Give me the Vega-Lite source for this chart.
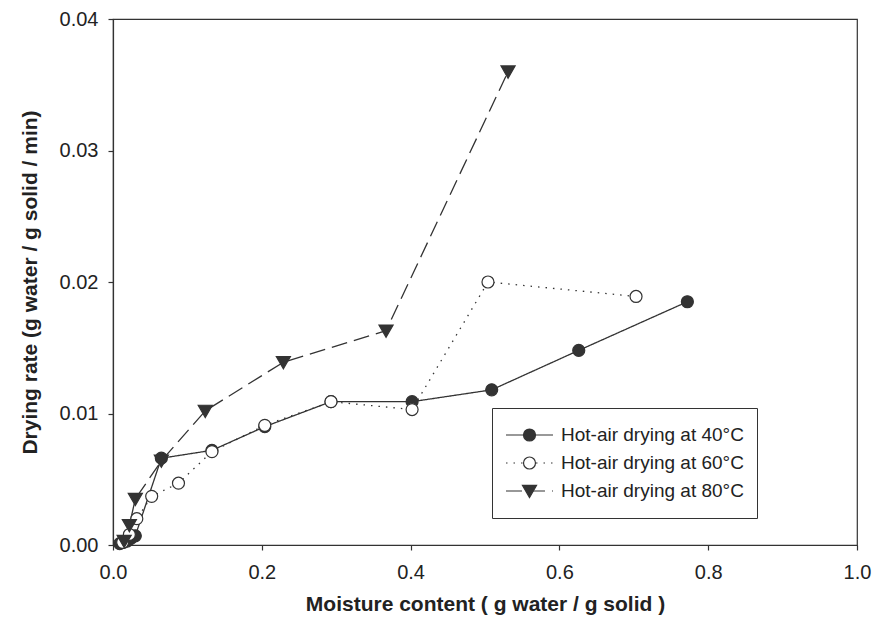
{
  "$schema": "https://vega.github.io/schema/vega-lite/v6.json",
  "autosize": {"type": "none"},
  "padding": {"left": 113, "top": 19, "right": 24, "bottom": 90},
  "width": 744,
  "height": 526,
  "background": "white",
  "config": {
    "font": "Liberation Sans",
    "view": {"stroke": "#333", "strokeWidth": 1.2},
    "axis": {
      "grid": false,
      "domainColor": "#333",
      "domainWidth": 1.2,
      "tickColor": "#333",
      "tickWidth": 1.2,
      "tickSize": 5,
      "labelFont": "Liberation Sans",
      "labelFontSize": 20,
      "labelColor": "#222",
      "labelFlush": false,
      "labelOverlap": false,
      "titleFont": "Liberation Sans",
      "titleFontSize": 21,
      "titleFontWeight": "bold",
      "titleColor": "#222"
    }
  },
  "data": {
    "values": [
      {"series": "Hot-air drying at 40°C", "x": 0.009, "y": 0.0001},
      {"series": "Hot-air drying at 40°C", "x": 0.014, "y": 0.0002},
      {"series": "Hot-air drying at 40°C", "x": 0.019, "y": 0.0003},
      {"series": "Hot-air drying at 40°C", "x": 0.024, "y": 0.0005},
      {"series": "Hot-air drying at 40°C", "x": 0.03, "y": 0.0007},
      {"series": "Hot-air drying at 40°C", "x": 0.065, "y": 0.0066},
      {"series": "Hot-air drying at 40°C", "x": 0.133, "y": 0.0072},
      {"series": "Hot-air drying at 40°C", "x": 0.204, "y": 0.0090},
      {"series": "Hot-air drying at 40°C", "x": 0.293, "y": 0.0109},
      {"series": "Hot-air drying at 40°C", "x": 0.402, "y": 0.0109},
      {"series": "Hot-air drying at 40°C", "x": 0.509, "y": 0.0118},
      {"series": "Hot-air drying at 40°C", "x": 0.626, "y": 0.0148},
      {"series": "Hot-air drying at 40°C", "x": 0.772, "y": 0.0185},
      {"series": "Hot-air drying at 60°C", "x": 0.013, "y": 0.0002},
      {"series": "Hot-air drying at 60°C", "x": 0.022, "y": 0.0008},
      {"series": "Hot-air drying at 60°C", "x": 0.032, "y": 0.0020},
      {"series": "Hot-air drying at 60°C", "x": 0.052, "y": 0.0037},
      {"series": "Hot-air drying at 60°C", "x": 0.088, "y": 0.0047},
      {"series": "Hot-air drying at 60°C", "x": 0.133, "y": 0.0071},
      {"series": "Hot-air drying at 60°C", "x": 0.204, "y": 0.0091},
      {"series": "Hot-air drying at 60°C", "x": 0.293, "y": 0.0109},
      {"series": "Hot-air drying at 60°C", "x": 0.402, "y": 0.0103},
      {"series": "Hot-air drying at 60°C", "x": 0.504, "y": 0.0200},
      {"series": "Hot-air drying at 60°C", "x": 0.703, "y": 0.0189},
      {"series": "Hot-air drying at 80°C", "x": 0.015, "y": 0.0003},
      {"series": "Hot-air drying at 80°C", "x": 0.022, "y": 0.0015},
      {"series": "Hot-air drying at 80°C", "x": 0.030, "y": 0.0035},
      {"series": "Hot-air drying at 80°C", "x": 0.065, "y": 0.0064},
      {"series": "Hot-air drying at 80°C", "x": 0.124, "y": 0.0102},
      {"series": "Hot-air drying at 80°C", "x": 0.229, "y": 0.0139},
      {"series": "Hot-air drying at 80°C", "x": 0.367, "y": 0.0163},
      {"series": "Hot-air drying at 80°C", "x": 0.531, "y": 0.0360}
    ]
  },
  "encoding": {
    "x": {
      "field": "x", "type": "quantitative",
      "scale": {"domain": [0, 1], "nice": false, "zero": false},
      "axis": {
        "title": "Moisture content ( g water / g solid )",
        "values": [0, 0.2, 0.4, 0.6, 0.8, 1.0],
        "format": ".1f",
        "labelPadding": 12,
        "titlePadding": 11
      }
    },
    "y": {
      "field": "y", "type": "quantitative",
      "scale": {"domain": [0, 0.04], "nice": false, "zero": false},
      "axis": {
        "title": "Drying rate (g water / g solid / min)",
        "values": [0, 0.01, 0.02, 0.03, 0.04],
        "format": ".2f",
        "labelPadding": 10,
        "titlePadding": 19
      }
    }
  },
  "layer": [
    {
      "mark": {"type": "line", "stroke": "#333", "strokeWidth": 1.3},
      "encoding": {
        "strokeDash": {
          "field": "series", "type": "nominal",
          "scale": {
            "domain": ["Hot-air drying at 40°C", "Hot-air drying at 60°C", "Hot-air drying at 80°C"],
            "range": [[1, 0], [1.5, 6], [16, 7]]
          },
          "legend": {
            "title": null,
            "orient": "none",
            "legendX": 379,
            "legendY": 389,
            "symbolType": "M-1,0L1,0",
            "symbolSize": 2209,
            "symbolStrokeWidth": 1.2,
            "symbolStrokeColor": "#333",
            "symbolFillColor": "transparent",
            "clipHeight": 28,
            "rowPadding": 0,
            "padding": 13,
            "labelOffset": 7,
            "labelFont": "Liberation Sans",
            "labelFontSize": 19,
            "labelColor": "#222",
            "labelLimit": 400,
            "strokeColor": "#333"
          }
        }
      }
    },
    {
      "mark": {"type": "point", "strokeWidth": 1.2, "size": 2209, "opacity": 1, "fillOpacity": 1, "strokeOpacity": 1},
      "encoding": {
        "shape": {
          "field": "series", "type": "nominal",
          "scale": {
            "range": [
              "M-0.255,0 A0.255,0.255 0 1,0 0.255,0 A0.255,0.255 0 1,0 -0.255,0 Z",
              "M-0.255,0 A0.255,0.255 0 1,0 0.255,0 A0.255,0.255 0 1,0 -0.255,0 Z",
              "M-0.3,-0.24 L0.3,-0.24 L0,0.28 Z"
            ]
          },
          "legend": {
            "title": null,
            "orient": "none",
            "legendX": 379,
            "legendY": 389,
            "symbolSize": 2209,
            "symbolStrokeWidth": 1.2,
            "clipHeight": 28,
            "rowPadding": 0,
            "padding": 13,
            "labelOffset": 7,
            "labelFont": "Liberation Sans",
            "labelFontSize": 19,
            "labelOpacity": 0,
            "labelLimit": 400
          }
        },
        "fill": {
          "field": "series", "type": "nominal",
          "scale": {"range": ["#333", "white", "#333"]},
          "legend": {
            "title": null,
            "orient": "none",
            "legendX": 379,
            "legendY": 389,
            "symbolSize": 2209,
            "symbolStrokeWidth": 1.2,
            "clipHeight": 28,
            "rowPadding": 0,
            "padding": 13,
            "labelOffset": 7,
            "labelFont": "Liberation Sans",
            "labelFontSize": 19,
            "labelOpacity": 0,
            "labelLimit": 400
          }
        },
        "stroke": {
          "field": "series", "type": "nominal",
          "scale": {"range": ["#333", "#333", "#333"]},
          "legend": {
            "title": null,
            "orient": "none",
            "legendX": 379,
            "legendY": 389,
            "symbolSize": 2209,
            "symbolStrokeWidth": 1.2,
            "clipHeight": 28,
            "rowPadding": 0,
            "padding": 13,
            "labelOffset": 7,
            "labelFont": "Liberation Sans",
            "labelFontSize": 19,
            "labelOpacity": 0,
            "labelLimit": 400
          }
        }
      }
    }
  ]
}
